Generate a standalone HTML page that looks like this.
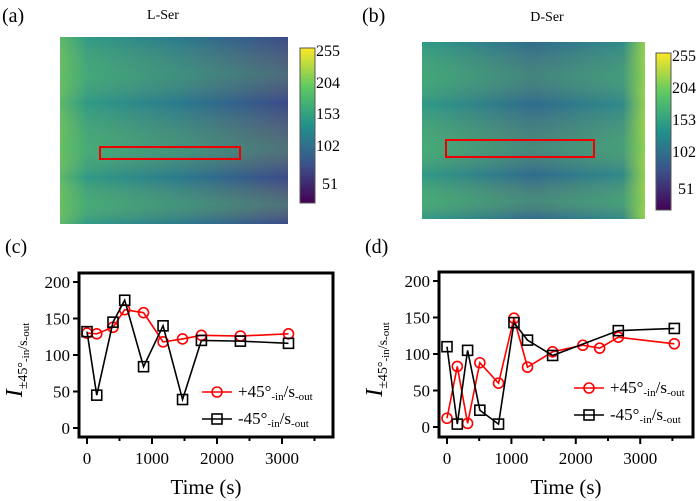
<!DOCTYPE html>
<html><head><meta charset="utf-8">
<style>
body{margin:0;background:#fff;}
svg{display:block;}
svg text{font-family:"Liberation Serif","Times New Roman",serif;}
</style></head>
<body>
<svg id="fig" width="700" height="501" viewBox="0 0 700 501" xmlns="http://www.w3.org/2000/svg" font-family="Liberation Serif, serif">
<defs>
<linearGradient id="cbar" x1="0" y1="1" x2="0" y2="0">
<stop offset="0" stop-color="#440154"/><stop offset="0.25" stop-color="#3b528b"/><stop offset="0.5" stop-color="#21918c"/><stop offset="0.75" stop-color="#5ec962"/><stop offset="1" stop-color="#fde725"/>
</linearGradient>
<linearGradient id="imgA" x1="0" y1="0" x2="1" y2="0">
<stop offset="0" stop-color="#5cb86a"/><stop offset="0.12" stop-color="#2f9a86"/><stop offset="0.55" stop-color="#2a788e"/><stop offset="1" stop-color="#3b4a8a"/>
</linearGradient>
<linearGradient id="imgB" x1="0" y1="0" x2="1" y2="0">
<stop offset="0" stop-color="#2f9a86"/><stop offset="0.5" stop-color="#2f6c8e"/><stop offset="0.9" stop-color="#2f8a8a"/><stop offset="1" stop-color="#8fd050"/>
</linearGradient>
<linearGradient id="stripes" x1="0" y1="0" x2="0" y2="1">
<stop offset="0" stop-color="#fde725" stop-opacity="0"/><stop offset="0.2" stop-color="#7ad151" stop-opacity="0.25"/><stop offset="0.35" stop-color="#fde725" stop-opacity="0"/><stop offset="0.6" stop-color="#7ad151" stop-opacity="0.3"/><stop offset="0.75" stop-color="#fde725" stop-opacity="0"/><stop offset="0.9" stop-color="#7ad151" stop-opacity="0.3"/><stop offset="1" stop-color="#fde725" stop-opacity="0"/>
</linearGradient>
</defs>

<text x="2" y="22" font-size="20">(a)</text>
<text x="163" y="19" font-size="14" text-anchor="middle">L-Ser</text>
<rect x="60" y="37" width="228" height="187" fill="url(#imgA)"/>
<rect x="60" y="37" width="228" height="187" fill="url(#stripes)"/>
<rect x="100" y="147" width="140" height="12" fill="none" stroke="#e00" stroke-width="2"/>
<rect x="300" y="48" width="15" height="155" fill="url(#cbar)" stroke="#555" stroke-width="1"/>
<g font-size="16">
<text x="316" y="56">255</text><text x="316" y="88">204</text><text x="316" y="119">153</text><text x="316" y="151">102</text><text x="322" y="189">51</text>
</g>

<text x="362" y="22" font-size="20">(b)</text>
<text x="547" y="21" font-size="14" text-anchor="middle">D-Ser</text>
<rect x="422" y="42" width="223" height="177" fill="url(#imgB)"/>
<rect x="422" y="42" width="223" height="177" fill="url(#stripes)"/>
<rect x="446" y="140" width="148" height="17" fill="none" stroke="#e00" stroke-width="2"/>
<rect x="656" y="53" width="15" height="157" fill="url(#cbar)" stroke="#555" stroke-width="1"/>
<g font-size="16">
<text x="672" y="61">255</text><text x="672" y="93">204</text><text x="672" y="125">153</text><text x="672" y="157">102</text><text x="678" y="194">51</text>
</g>

<text x="5" y="253" font-size="20">(c)</text>
<text x="365" y="253" font-size="20">(d)</text>
<g id="plots"></g>
</svg>
<script>
const cTimesRed=[0,150,400,580,870,1170,1470,1760,2360,3100];
const cRed=[130,129,138,162,158,118,122,127,126,129];
const cTimesBlack=[0,150,400,580,870,1170,1470,1760,2360,3100];
const cBlack=[132,45,145,175,84,140,39,120,119,116];
const dTimesRed=[0,160,320,510,800,1040,1250,1640,2110,2370,2660,3530];
const dRed=[12,83,5,88,60,149,82,103,112,108,123,114];
const dTimesBlack=[0,160,320,510,800,1040,1250,1640,2660,3530];
const dBlack=[110,4,105,23,4,143,119,98,132,135];
const yTicks=[0,50,100,150,200];
const xTicks=[0,1000,2000,3000];

const NS="http://www.w3.org/2000/svg";
const root=document.getElementById('plots');
function mk(tag,attrs,parent){const e=document.createElementNS(NS,tag);for(const k in attrs)e.setAttribute(k,attrs[k]);(parent||root).appendChild(e);return e;}

function drawPanel(id,fx0,fy0,fx1,fy1,x0px,xPer1000,y0px,y200px,series,legX,legY){
  const g=mk('g',{});
  
  
  const sx=v=>x0px+v/1000*xPer1000;
  const sy=v=>y0px+(y200px-y0px)*v/200;
  const frame=mk('rect',{x:fx0,y:fy0,width:fx1-fx0,height:fy1-fy0,fill:'none',stroke:'#000','stroke-width':3},g);
  
  
  yTicks.forEach(t=>{
    mk('line',{x1:fx0-6,x2:fx0,y1:sy(t),y2:sy(t),stroke:'#000','stroke-width':2},g);
    const tx=mk('text',{x:fx0-9,y:sy(t)+6,'font-size':17,'text-anchor':'end'},g);
    tx.textContent=t;
    
    
  });
  for(let t=0;t<=3500;t+=500){
    if(sx(t)>fx1)break;
    mk('line',{x1:sx(t),x2:sx(t),y1:fy1,y2:fy1+(t%1000==0?7:4),stroke:'#000','stroke-width':2},g);
  }
  xTicks.forEach(t=>{
    const tx=mk('text',{x:sx(t),y:fy1+27,'font-size':17,'text-anchor':'middle'},g);
    tx.textContent=t;
    
    
  });
  const xt=mk('text',{x:(fx0+fx1)/2,y:fy1+57,'font-size':21,'text-anchor':'middle'},g);
  xt.textContent='Time (s)';
  
  
  const yt=mk('text',{transform:`translate(${fx0-57},${(fy0+fy1)/2+5}) rotate(-90)`,'font-size':21,'text-anchor':'middle'},g);
  yt.innerHTML='<tspan font-style="italic" font-size="24">I</tspan><tspan font-size="14" dy="5">±45°</tspan><tspan font-size="11" dy="2">-in</tspan><tspan font-size="14" dy="-2">/s</tspan><tspan font-size="11" dy="2">-out</tspan>';
  
  
  series.forEach(s=>{
    const pts=s.t.map((t,i)=>sx(t)+','+sy(s.v[i])).join(' ');
    const pl=mk('polyline',{points:pts,fill:'none',stroke:s.c,'stroke-width':1.6},g);
    
    
    s.t.forEach((t,i)=>{
      let m;
      if(s.m==='o')m=mk('circle',{cx:sx(t),cy:sy(s.v[i]),r:5,fill:'none',stroke:s.c,'stroke-width':1.6},g);
      else m=mk('rect',{x:sx(t)-5,y:sy(s.v[i])-5,width:10,height:10,fill:'none',stroke:s.c,'stroke-width':1.6},g);
      
      
    });
  });
  series.forEach((s,k)=>{
    const ly=legY+k*27;
    const lg=mk('g',{},g);
    
    
    mk('line',{x1:legX,x2:legX+30,y1:ly,y2:ly,stroke:s.c,'stroke-width':1.6},lg);
    if(s.m==='o')mk('circle',{cx:legX+15,cy:ly,r:5,fill:'none',stroke:s.c,'stroke-width':1.6},lg);
    else mk('rect',{x:legX+10,y:ly-5,width:10,height:10,fill:'none',stroke:s.c,'stroke-width':1.6},lg);
    const lt=mk('text',{x:legX+36,y:ly+5,'font-size':17},lg);
    lt.innerHTML=(s.m==='o'?'+45°':'-45°')+'<tspan font-size="11" dy="3">-in</tspan><tspan dy="-3">/s</tspan><tspan font-size="11" dy="3">-out</tspan>';
  });
}
drawPanel('panel-c',79,273,333,437,87,65,428,282,[
 {t:cTimesRed,v:cRed,c:'#f00',m:'o',name:'plus45'},
 {t:cTimesBlack,v:cBlack,c:'#000',m:'s',name:'minus45'}],202,392);
drawPanel('panel-d',439,272,693,437,447,64.4,427,281,[
 {t:dTimesRed,v:dRed,c:'#f00',m:'o',name:'plus45'},
 {t:dTimesBlack,v:dBlack,c:'#000',m:'s',name:'minus45'}],574,388);
</script>
</body></html>
